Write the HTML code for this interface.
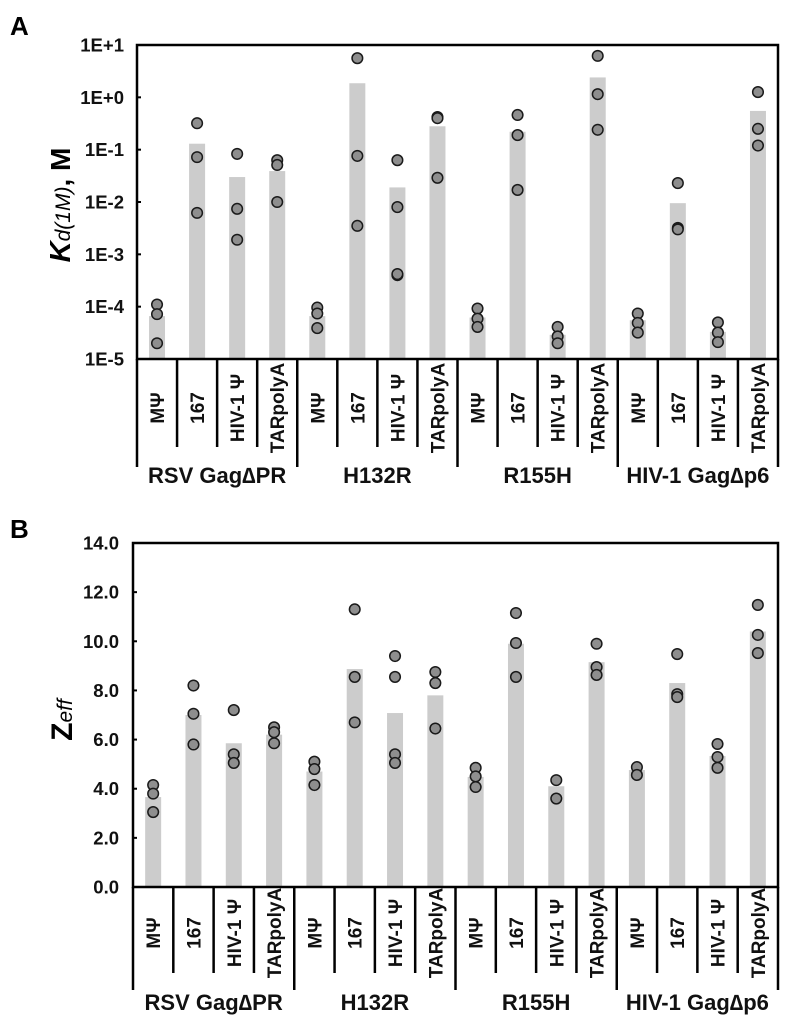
<!DOCTYPE html>
<html><head><meta charset="utf-8"><style>
html,body{margin:0;padding:0;background:#fff;}
svg{display:block;font-family:"Liberation Sans",Arial,sans-serif;}
</style></head><body>
<svg id="fig" width="792" height="1024" viewBox="0 0 792 1024" xmlns="http://www.w3.org/2000/svg">
<text x="10" y="35" font-size="26" font-weight="bold">A</text>
<text x="10" y="538" font-size="26" font-weight="bold">B</text>
<text transform="translate(70,205) rotate(-90)" text-anchor="middle" font-weight="bold"><tspan font-size="29" font-style="italic">K</tspan><tspan font-size="21" font-style="italic" font-weight="normal">d(1M)</tspan><tspan font-size="28">, M</tspan></text>
<text transform="translate(72,720) rotate(-90)" text-anchor="middle" font-weight="bold"><tspan font-size="30">Z</tspan><tspan font-size="21" font-style="italic" font-weight="normal">eff</tspan></text>
<g id="chartA"></g>
<g id="chartB"></g>
</svg>
<script>
const categories = ["MΨ","167","HIV-1 Ψ","TARpolyA"];
const groups = ["RSV Gag∆PR","H132R","R155H","HIV-1 Gag∆p6"];
const kdBars = [6.6e-5,0.13,0.03,0.039, 6.6e-5,1.86,0.019,0.28, 6.2e-5,0.22,2.9e-5,2.4, 5.5e-5,0.0095,3.3e-5,0.55];
const kdPoints = [[1.1e-4,7.2e-5,2e-5],[0.32,0.072,0.0062],[0.083,0.0074,0.0019],[0.063,0.051,0.01],
 [9.6e-5,7.4e-5,3.9e-5],[5.6,0.076,0.0035],[0.063,0.008,0.0004,0.00042],[0.42,0.4,0.029],
 [9.2e-5,5.9e-5,4.1e-5],[0.46,0.19,0.017],[4.1e-5,2.7e-5,2e-5],[6.2,1.15,0.24],
 [7.4e-5,4.9e-5,3.2e-5],[0.023,0.0032,0.003],[5e-5,3.2e-5,2.1e-5],[1.26,0.25,0.12]];
const kdTicks = ["1E+1","1E+0","1E-1","1E-2","1E-3","1E-4","1E-5"];
const zBars = [3.66,7.0,5.85,6.2, 4.7,8.87,7.08,7.8, 4.48,9.9,4.1,9.15, 4.76,8.3,5.33,10.4];
const zPoints = [[4.15,3.8,3.05],[8.2,7.05,5.8],[7.2,5.4,5.05],[6.5,6.3,5.85],
 [5.1,4.8,4.15],[11.3,8.55,6.7],[9.4,8.55,5.4,5.05],[8.75,8.3,6.45],
 [4.85,4.5,4.07],[11.15,9.93,8.55],[4.35,3.6],[9.9,8.95,8.63],
 [4.88,4.56],[9.48,7.85,7.73],[5.82,5.29,4.85],[11.48,10.26,9.52]];
const zTicks = [0,2,4,6,8,10,12,14];

const NS="http://www.w3.org/2000/svg";
function mk(parent,tag,attrs){const e=document.createElementNS(NS,tag);for(const k in attrs)e.setAttribute(k,attrs[k]);parent.appendChild(e);return e;}

function drawChart(g, cfg){
  const {L,T,R,B,yScale,bars,points,shortLen,longLen,labelY,groupY,tickLabels,tickVals,tickX} = cfg;
  const n = bars.length, cw=(R-L)/n;
  const xc = i => L + cw*(i+0.5);
  bars.forEach((v,i)=>{
    const y=yScale(v);
    const r=mk(g,'rect',{x:xc(i)-8,y:y,width:16,height:B-y,fill:'#cccccc'});
    
    
  });
  points.forEach((arr,i)=>{
    arr.forEach(v=>{
      const c=mk(g,'circle',{cx:xc(i),cy:yScale(v),r:5.3,fill:'#8e8e8e',stroke:'#1a1a1a','stroke-width':1.5});
      
      
    });
  });
  const f=mk(g,'rect',{x:L,y:T,width:R-L,height:B-T,fill:'none',stroke:'#000','stroke-width':2.5});
  
  
  tickVals.forEach((v,k)=>{
    const y=yScale(v);
    mk(g,'line',{x1:L,x2:L+4,y1:y,y2:y,stroke:'#000','stroke-width':2});
    const t=mk(g,'text',{x:tickX,y:y+6.5,'text-anchor':'end','font-size':18.5,'font-weight':'bold',fill:'#111'});
    t.textContent=tickLabels[k];
    
    
  });
  for(let i=0;i<=n;i++){
    const x=L+cw*i;
    const len = (i%4===0)?longLen:shortLen;
    mk(g,'line',{x1:x,x2:x,y1:B,y2:B+len,stroke:'#000','stroke-width':2.5});
  }
  for(let i=0;i<n;i++){
    const t=mk(g,'text',{transform:`translate(${xc(i)+7},${labelY}) rotate(-90)`,'text-anchor':'middle','font-size':19,'font-weight':'bold',fill:'#111'});
    t.textContent=categories[i%4];
    
    
  }
  groups.forEach((gn,j)=>{
    const t=mk(g,'text',{x:L+cw*(4*j+2),y:groupY,'text-anchor':'middle','font-size':22,'font-weight':'bold',fill:'#111'});
    t.textContent=gn;
    
    
  });
}

const A={L:137,T:45,R:778,B:359};
drawChart(document.getElementById('chartA'),{...A,
  yScale:v=>A.T+(1-Math.log10(v))*(A.B-A.T)/6,
  bars:kdBars,points:kdPoints,shortLen:88,longLen:108,labelY:408,groupY:483,
  tickLabels:kdTicks,tickVals:[10,1,0.1,0.01,0.001,1e-4,1e-5],tickX:124});
const Bc={L:133,T:543,R:778,B:887};
drawChart(document.getElementById('chartB'),{...Bc,
  yScale:v=>Bc.B-v*(Bc.B-Bc.T)/14,
  bars:zBars,points:zPoints,shortLen:86,longLen:103,labelY:933,groupY:1010,
  tickLabels:zTicks.map(v=>v.toFixed(1)),tickVals:zTicks,tickX:119});
</script>
</body></html>
